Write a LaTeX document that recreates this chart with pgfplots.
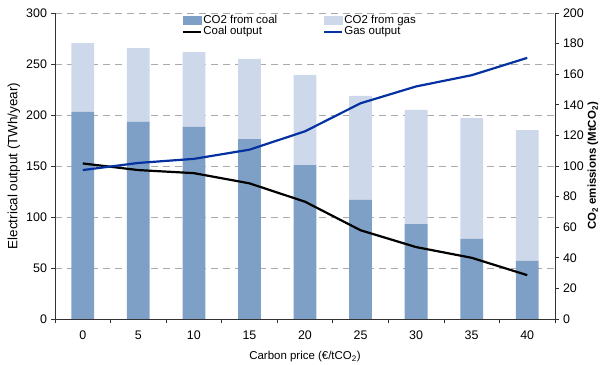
\documentclass[border=0pt]{standalone}
\usepackage{fontspec}
\setmainfont{Liberation Sans}
\usepackage{pgfplots}
\pgfplotsset{compat=1.18}
\definecolor{coalbar}{RGB}{127,160,198}
\definecolor{gasbar}{RGB}{205,217,234}
\definecolor{gasline}{RGB}{5,50,160}
\definecolor{gridc}{RGB}{170,170,170}
\definecolor{spine}{RGB}{50,50,50}
\pgfplotsset{
  lineleg/.style={legend image code/.code={\draw[##1] (0bp,0bp) -- (18bp,0bp);}},
  coalleg/.style={legend image code/.code={\fill[coalbar] (0bp,-4bp) rectangle (18bp,4bp);}},
  gasleg/.style={legend image code/.code={\fill[gasbar] (0bp,-4bp) rectangle (18bp,4bp);}},
  base/.style={width=500bp,height=306bp,scale only axis, at={(0,0)}, anchor=south west,
    xmin=-0.5,xmax=8.5,
    /pgf/number format/assume math mode=true,
    tick label style={font=\fontsize{12.5}{14}\selectfont},
    label style={font=\fontsize{11.5}{13}\selectfont},
    tick style={spine, line width=0.7bp}, major tick length=4bp, tick align=outside,
    axis line style={spine, line width=0.8bp}},
}
\begin{document}
\fontsize{11.5}{13}\selectfont
\begin{tikzpicture}
\begin{axis}[base, ymin=0,ymax=300, ytick={0,50,...,300},
  axis x line*=bottom, axis y line*=left,
  ymajorgrids, grid style={gridc, dash pattern=on 7bp off 5bp, line width=0.8bp},
  xtick={-0.5,0.5,...,8.5}, xticklabels={},
  extra x ticks={0,1,2,3,4,5,6,7,8},
  extra x tick labels={0,5,10,15,20,25,30,35,40},
  extra x tick style={major tick length=0pt, grid=none, xticklabel style={yshift=-8bp}},
  xlabel={Carbon price (€/tCO\textsubscript{2})},
  ylabel={Electrical output (TWh/year)},
  ylabel style={font=\fontsize{13.5}{15}\selectfont, at={(axis description cs:-0.082,0.5)}, anchor=center}]
\end{axis}
\begin{axis}[base, ymin=0,ymax=200, ytick={0,20,...,200},
  axis y line*=right, axis x line=none,
  ylabel={\bfseries CO\textsubscript{2} emissions (MtCO\textsubscript{2})},
  ylabel style={at={(axis description cs:1.076,0.5)}, anchor=center},
  ybar stacked, bar width=0.41]
\addplot[fill=coalbar, draw=none] coordinates {(0,135.3) (1,129) (2,125.5) (3,117.6) (4,100.6) (5,77.8) (6,62) (7,52.3) (8,38)};
\addplot[fill=gasbar, draw=none] coordinates {(0,45) (1,48) (2,49) (3,52.4) (4,59) (5,68) (6,74.6) (7,79) (8,85.5)};
\end{axis}
\begin{axis}[base, ymin=0,ymax=300, hide axis,
  legend columns=2, legend cell align=left,
  legend style={draw=none, fill=none, at={(axis description cs:0.248,1.0)}, anchor=north west,
    font=\fontsize{11.5}{13}\selectfont,
    nodes={inner sep=0pt, text height=8.4bp, text depth=2.6bp},
    /tikz/every even column/.append style={column sep=46bp},
    /tikz/every odd column/.append style={column sep=1bp}}]
\addlegendimage{coalleg}
\addlegendentry{CO2 from coal}
\addlegendimage{gasleg}
\addlegendentry{CO2 from gas}
\addplot[black, line width=2.2bp, lineleg] coordinates {(0,152.5) (1,146) (2,143) (3,133) (4,115) (5,87) (6,70.5) (7,60) (8,43)};
\addlegendentry{Coal output}
\addplot[gasline, line width=2.2bp, lineleg] coordinates {(0,146) (1,153) (2,157) (3,166) (4,184) (5,211.5) (6,228) (7,239) (8,256)};
\addlegendentry{Gas output}
\end{axis}
\pgfresetboundingbox
\useasboundingbox (-55bp,-46bp) rectangle (551bp,319bp);
\end{tikzpicture}
\end{document}
